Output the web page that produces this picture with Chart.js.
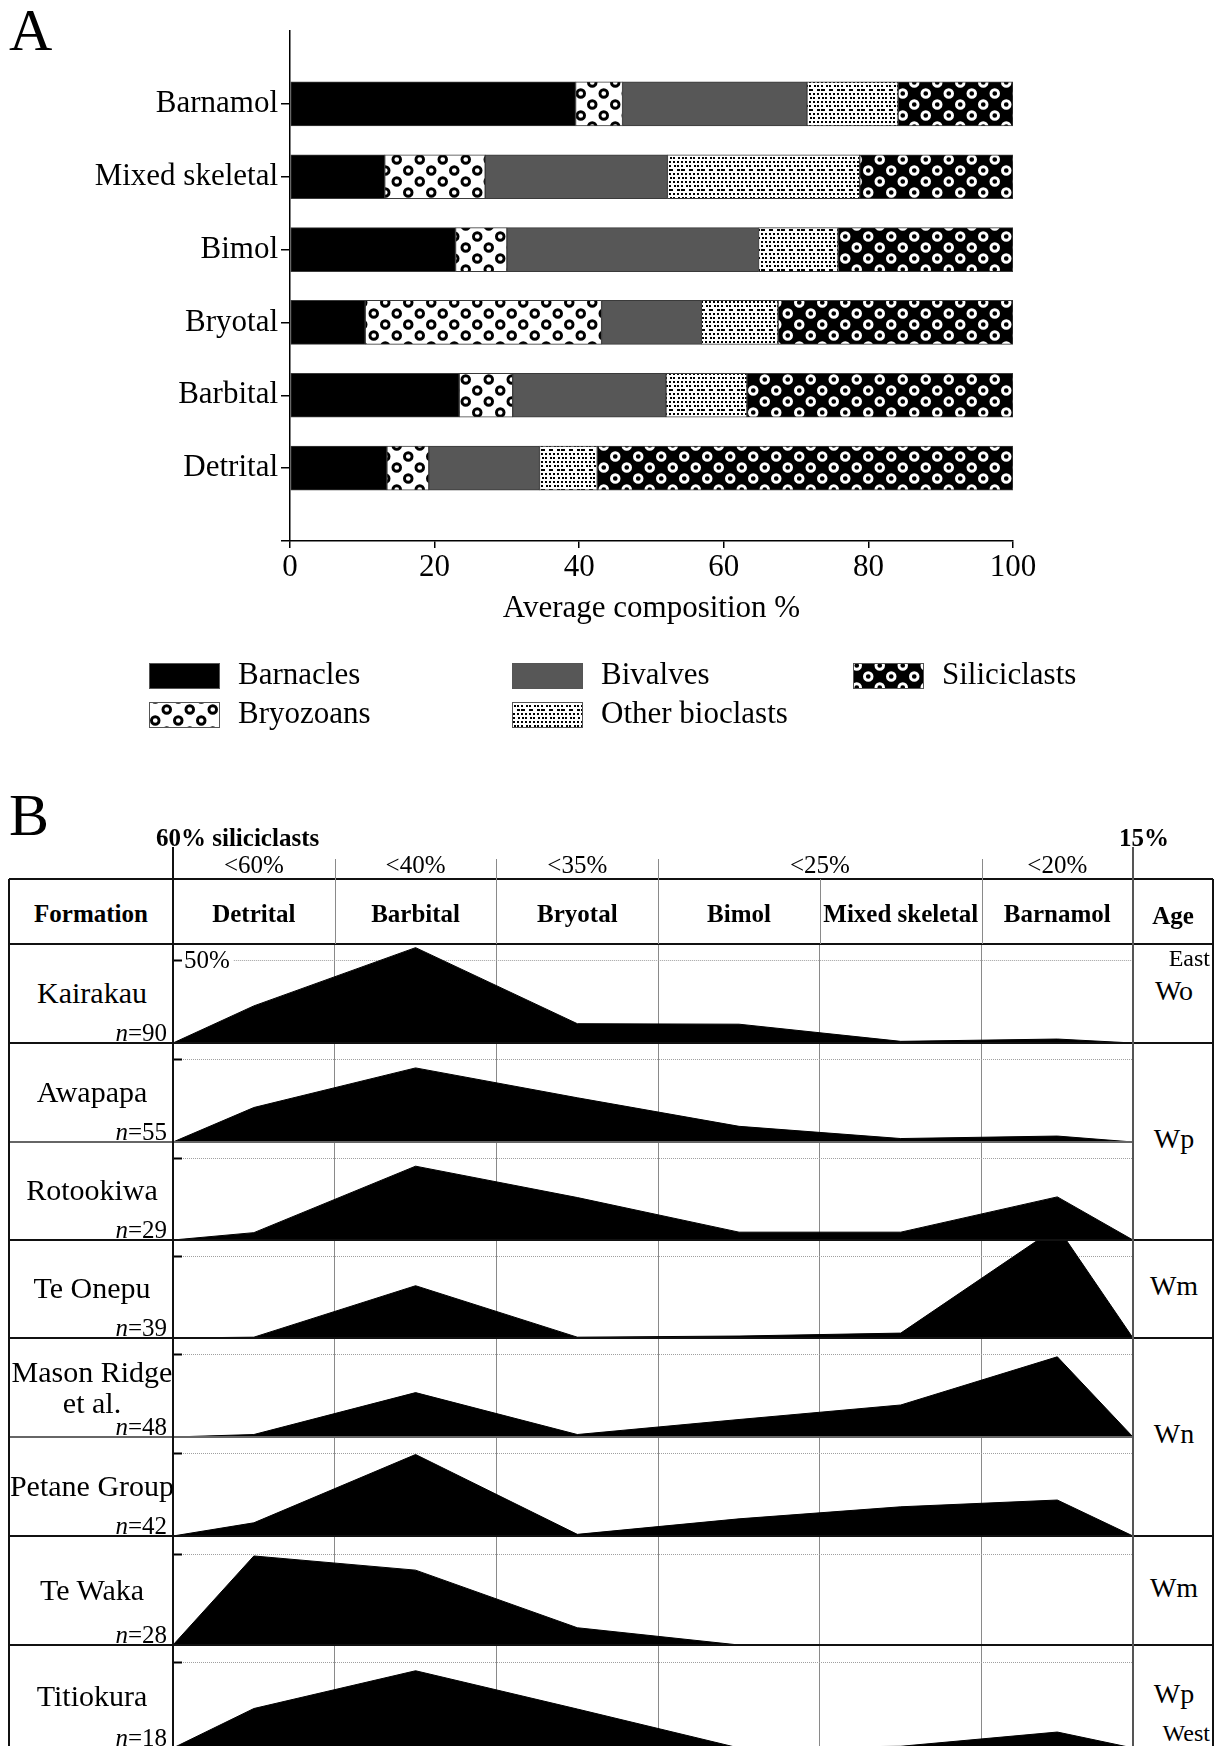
<!DOCTYPE html>
<html lang="en">
<head>
<meta charset="UTF-8">
<title>Facies composition and distribution</title>
<script src="https://cdn.jsdelivr.net/npm/chart.js"></script>
<style>
  body { margin: 0; background: #fff; font-family: "Liberation Serif", "Times New Roman", serif; color: #000; }
  #page { position: relative; width: 1223px; height: 1746px; overflow: hidden; background: #fff; }
  .abs { position: absolute; line-height: 1; white-space: nowrap; }
  .panel { font-size: 60px; }
  .hdr { font-size: 25px; font-weight: bold; }
  .lim { font-size: 25px; }
  .frm { font-size: 30px; }
  .cnt { font-size: 25px; }
  .age { font-size: 28px; }
  .dir { font-size: 24px; }
</style>
</head>
<body>
<div id="page">
  <canvas id="chartA" width="1223" height="760" style="position:absolute;left:0;top:0"></canvas>
</div>
<script>
    // ---- Part A: average composition of each facies (%)
    const facies = ['Barnamol', 'Mixed skeletal', 'Bimol', 'Bryotal', 'Barbital', 'Detrital'];
    const barnacles = [39.5, 13.1, 22.9, 10.4, 23.4, 13.4];
    const bryozoans = [6.5, 13.9, 7.1, 32.7, 7.4, 5.8];
    const bivalves = [25.5, 25.2, 34.8, 13.8, 21.2, 15.3];
    const otherBioclasts = [12.6, 26.6, 11.0, 10.6, 11.2, 8.0];
    const siliciclasts = [15.9, 21.2, 24.2, 32.5, 36.8, 57.5];
    const xTicks = [0, 20, 40, 60, 80, 100];

    // ---- Part B: facies frequency (%) per formation
    const columnFacies = ['Detrital', 'Barbital', 'Bryotal', 'Bimol', 'Mixed skeletal', 'Barnamol'];
    const siliciclastLimits = ['<60%', '<40%', '<35%', '<25%', '<20%'];
    const limitSpans = [1, 1, 1, 2, 1];
    const formations = ['Kairakau', 'Awapapa', 'Rotookiwa', 'Te Onepu', 'Mason Ridge<br>et al.', 'Petane Group', 'Te Waka', 'Titiokura'];
    const sampleCounts = [90, 55, 29, 39, 48, 42, 28, 18];
    const kairakau = [22.5, 57.8, 11.7, 11.4, 1.0, 2.4];
    const awapapa = [20.9, 44.9, 26.8, 9.5, 2.1, 3.6];
    const rotookiwa = [4.5, 45.2, 26.0, 4.8, 4.8, 26.4];
    const teOnepu = [0.5, 32.0, 0.5, 1.2, 3.0, 68.0];
    const masonRidge = [1.5, 26.9, 1.5, 10.6, 19.4, 48.6];
    const petane = [8.0, 49.4, 1.0, 10.4, 17.7, 21.8];
    const teWaka = [49.0, 41.2, 9.5, 0, 0, 0];
    const titiokura = [23.0, 45.0, 22.7, 0, 1.0, 9.3];
    const profiles = [kairakau, awapapa, rotookiwa, teOnepu, masonRidge, petane, teWaka, titiokura];
    const ageLabels = ['Wo', 'Wp', 'Wm', 'Wn', 'Wm', 'Wp'];
    const ageRowSpans = [1, 2, 1, 2, 1, 1];
    const gridMark = 50;

    const serif = '"Liberation Serif", "Times New Roman", serif';
    Chart.defaults.font.family = serif;
    Chart.defaults.color = '#000';

    function ringPattern(bg, fg) {
        const c = document.createElement('canvas');
        c.width = 23; c.height = 22;
        const g = c.getContext('2d');
        g.fillStyle = bg; g.fillRect(0, 0, 23, 22);
        g.strokeStyle = fg; g.lineWidth = 2.9;
        [[5.75, 5.5], [17.25, 16.5]].forEach(([x, y]) => {
            g.beginPath(); g.arc(x, y, 3.8, 0, Math.PI * 2); g.stroke();
        });
        return g.createPattern(c, 'repeat');
    }

    function stipplePattern() {
        const c = document.createElement('canvas');
        c.width = 20; c.height = 20;
        const g = c.getContext('2d');
        g.fillStyle = '#fff'; g.fillRect(0, 0, 20, 20);
        g.fillStyle = '#000';
        for (let i = 0; i < 5; i++) {
            for (let j = 0; j < 5; j++) {
                const k = (i * 3 + j * 7) % 6;
                if (k === 5) continue;
                const dx = k === 4 ? 1 : 0;
                g.fillRect(i * 4 + 1 + dx, j * 4 + 1, k === 2 ? 4 : 2, 2);
            }
        }
        return g.createPattern(c, 'repeat');
    }

    const pad = arr => [null, ...arr, null];

    // legend laid out in columns of two, like the figure
    const legendX = [149, 512, 853];
    const legendY = [676, 715];
    const patternLegend = {
        id: 'patternLegend',
        afterDraw(chart) {
            const ctx = chart.ctx;
            ctx.save();
            ctx.font = '31px ' + serif;
            ctx.textBaseline = 'middle';
            chart.data.datasets.forEach((ds, i) => {
                const x = legendX[Math.floor(i / 2)], y = legendY[i % 2];
                ctx.fillStyle = ds.backgroundColor;
                ctx.fillRect(x, y - 13, 71, 26);
                ctx.strokeStyle = '#555'; ctx.lineWidth = 1;
                ctx.strokeRect(x + 0.5, y - 12.5, 70, 25);
                ctx.fillStyle = '#000';
                ctx.fillText(ds.label, x + 89, y);
            });
            ctx.restore();
        }
    };

    new Chart(document.getElementById('chartA'), {
        type: 'bar',
        data: {
            labels: ['', ...facies, ''],
            datasets: [
                {label: 'Barnacles', data: pad(barnacles), backgroundColor: '#000'},
                {label: 'Bryozoans', data: pad(bryozoans), backgroundColor: ringPattern('#fff', '#000')},
                {label: 'Bivalves', data: pad(bivalves), backgroundColor: '#575757'},
                {label: 'Other bioclasts', data: pad(otherBioclasts), backgroundColor: stipplePattern()},
                {label: 'Siliciclasts', data: pad(siliciclasts), backgroundColor: ringPattern('#000', '#fff')}
            ]
        },
        options: {
            indexAxis: 'y',
            responsive: false,
            animation: false,
            devicePixelRatio: 1,
            layout: {padding: {top: 31, right: 210, bottom: 133, left: 0}},
            datasets: {bar: {barThickness: 44, borderWidth: 1, borderColor: '#3a3a3a', borderSkipped: false}},
            plugins: {legend: {display: false}, tooltip: {enabled: false}},
            scales: {
                x: {
                    stacked: true, min: 0, max: 100,
                    afterBuildTicks: s => { s.ticks = xTicks.map(v => ({value: v})); },
                    afterFit: s => { s.height = 86; },
                    grid: {drawOnChartArea: false, tickLength: 7, color: '#000', lineWidth: 1.5},
                    border: {color: '#000', width: 1.5},
                    ticks: {font: {size: 31}, color: '#000', padding: 1, maxRotation: 0},
                    title: {display: true, text: 'Average composition %', font: {size: 31}, color: '#000', padding: 0}
                },
                y: {
                    stacked: true, offset: false,
                    afterFit: s => { s.width = 290; },
                    grid: {
                        offset: false, drawOnChartArea: false, tickLength: 9, lineWidth: 1.5,
                        color: c => c.index === 0 ? 'rgba(0,0,0,0)' : '#000'
                    },
                    border: {color: '#000', width: 1.5},
                    ticks: {font: {size: 31}, color: '#000', padding: 3, autoSkip: false}
                }
            }
        },
        plugins: [patternLegend]
    });

    // ---- Part B layout
    const page = document.getElementById('page');
    const tableLeft = 9, tableRight = 1213, plotLeft = 173, plotRight = 1133;
    const tableTop = 879, headerBottom = 944;
    const rowEdges = [944, 1043, 1142, 1240, 1338, 1437, 1536, 1645, 1748];
    const colEdges = [0, 1, 2, 3, 4, 5, 5.936];
    const xMax = colEdges[colEdges.length - 1];
    const pxPerCol = (plotRight - plotLeft) / xMax;
    const colX = v => plotLeft + v * pxPerCol;

    function place(html, x, y, cls, align, extra) {
        const d = document.createElement('div');
        d.className = 'abs ' + cls;
        d.innerHTML = html;
        d.style.left = x + 'px';
        d.style.top = y + 'px';
        const tx = align === 'center' ? '-50%' : align === 'right' ? '-100%' : '0';
        d.style.transform = `translate(${tx}, -50%)`;
        if (extra) d.style.cssText += extra;
        page.appendChild(d);
    }

    function rule(x, y, w, h, color) {
        const d = document.createElement('div');
        d.style.cssText = `position:absolute;left:${x}px;top:${y}px;width:${w}px;height:${h}px;background:${color}`;
        page.appendChild(d);
    }

    const halfMark = {
        id: 'halfMark',
        beforeDatasetsDraw(chart, args, opts) {
            const {ctx, chartArea: a} = chart;
            const y = Math.round(chart.scales.y.getPixelForValue(opts.value)) + 0.5;
            ctx.save();
            let start = a.left + 10;
            if (opts.label) {
                ctx.font = '25px ' + serif;
                ctx.fillStyle = '#000';
                ctx.textBaseline = 'middle';
                ctx.fillText(opts.label, a.left + 11, y + 1);
                start = a.left + 11 + ctx.measureText(opts.label).width + 4;
            }
            ctx.strokeStyle = '#a0a0a0'; ctx.lineWidth = 1; ctx.setLineDash([1, 1]);
            ctx.beginPath(); ctx.moveTo(start, y); ctx.lineTo(a.right, y); ctx.stroke();
            ctx.setLineDash([]); ctx.strokeStyle = '#000'; ctx.lineWidth = 2;
            ctx.beginPath(); ctx.moveTo(a.left, y); ctx.lineTo(a.left + 9, y); ctx.stroke();
            ctx.restore();
        }
    };

    // one small area chart per formation row
    formations.forEach((name, i) => {
        const top = rowEdges[i], h = rowEdges[i + 1] - rowEdges[i];
        const cv = document.createElement('canvas');
        cv.width = plotRight - plotLeft; cv.height = h;
        cv.style.cssText = `position:absolute;left:${plotLeft}px;top:${top}px`;
        page.appendChild(cv);
        const points = [{x: 0, y: 0}];
        profiles[i].forEach((v, j) => points.push({x: (colEdges[j] + colEdges[j + 1]) / 2, y: v}));
        points.push({x: xMax, y: 0});
        new Chart(cv, {
            type: 'line',
            data: {datasets: [{data: points, fill: 'origin', backgroundColor: '#000', borderColor: '#000',
                borderWidth: 1, pointRadius: 0, tension: 0}]},
            options: {
                responsive: false, animation: false, devicePixelRatio: 1,
                layout: {padding: 0},
                plugins: {legend: {display: false}, tooltip: {enabled: false},
                    halfMark: {value: gridMark, label: i === 0 ? gridMark + '%' : ''}},
                scales: {
                    x: {
                        type: 'linear', min: 0, max: xMax,
                        afterBuildTicks: s => { s.ticks = colEdges.slice(1, -1).map(v => ({value: v})); },
                        ticks: {display: false},
                        grid: {color: '#8a8a8a', lineWidth: 1, drawTicks: false},
                        border: {display: false}
                    },
                    y: {min: 0, max: 60, display: false}
                }
            },
            plugins: [halfMark]
        });
    });

    // table rules
    const dark = '#111', grey = '#8a8a8a';
    rule(tableLeft, tableTop - 1, tableRight - tableLeft, 2, dark);
    rule(tableLeft, headerBottom - 1, tableRight - tableLeft, 2, dark);
    let r = 0;
    ageRowSpans.forEach(span => {
        for (let k = 1; k < span; k++) rule(tableLeft, rowEdges[r + k] - 1, plotRight - tableLeft, 1.5, '#666');
        r += span;
        rule(tableLeft, rowEdges[r] - 1, tableRight - tableLeft, 2, dark);
    });
    rule(tableLeft - 1, tableTop, 2, 1746 - tableTop, dark);
    rule(plotLeft - 1, 847, 2, 1746 - 847, dark);
    rule(plotRight - 1, 847, 1.5, 1746 - 847, '#555');
    rule(tableRight - 1, tableTop, 2, 1746 - tableTop, dark);
    // header column dividers (limit dividers reach above the table)
    let acc = 0;
    const limitBreaks = limitSpans.slice(0, -1).map(s => (acc += s));
    colEdges.slice(1, -1).forEach((e, j) => {
        const top = limitBreaks.includes(j + 1) ? 859 : tableTop;
        rule(Math.round(colX(e)), top, 1, headerBottom - top, grey);
    });

    // texts
    place('A', 9, 30, 'panel', 'left');
    place('B', 9, 815, 'panel', 'left');
    place('60% siliciclasts', 156, 837, 'hdr', 'left');
    place('15%', 1119, 837, 'hdr', 'left');
    let c0 = 0;
    siliciclastLimits.forEach((t, j) => {
        const c1 = c0 + limitSpans[j];
        place(t.replace('<', '&lt;'), (colX(colEdges[c0]) + colX(colEdges[c1])) / 2, 864, 'lim', 'center');
        c0 = c1;
    });
    place('Formation', (tableLeft + plotLeft) / 2, 913, 'hdr', 'center');
    columnFacies.forEach((t, j) => place(t, (colX(colEdges[j]) + colX(colEdges[j + 1])) / 2, 913, 'hdr', 'center'));
    place('Age', (plotRight + tableRight) / 2, 915, 'hdr', 'center');

    formations.forEach((name, i) => {
        const mid = (rowEdges[i] + rowEdges[i + 1]) / 2 - 1;
        place(name, (tableLeft + plotLeft) / 2 + 1, mid, 'frm', 'center', name.includes('<br>') ? 'line-height:31px;text-align:center;' : '');
        place('<i>n</i>=' + sampleCounts[i], 167, rowEdges[i + 1] - 11, 'cnt', 'right');
    });

    let g = 0;
    ageLabels.forEach((t, j) => {
        const top = rowEdges[g], bottom = rowEdges[g + ageRowSpans[j]];
        place(t, (plotRight + tableRight) / 2 + 1, (top + bottom) / 2 - 3, 'age', 'center');
        g += ageRowSpans[j];
    });
    place('East', 1210, 958, 'dir', 'right');
    place('West', 1210, 1733, 'dir', 'right');
</script>
</body>
</html>
